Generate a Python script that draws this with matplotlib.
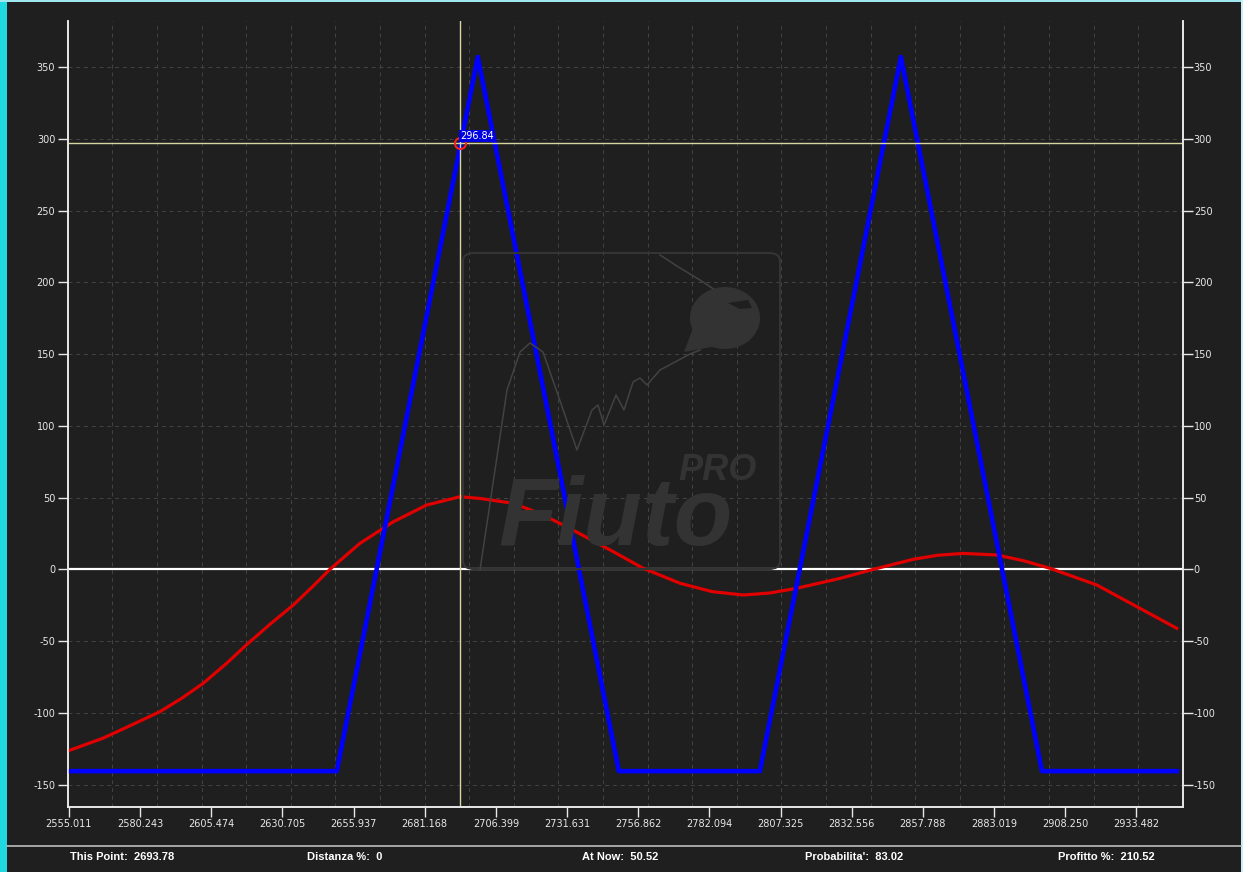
import matplotlib
matplotlib.use("Agg")
import matplotlib.pyplot as plt
from matplotlib.patches import FancyBboxPatch, Rectangle, PathPatch
from matplotlib.path import Path
import numpy as np

# ---------------- data ----------------
x_tick_labels = ["2555.011", "2580.243", "2605.474", "2630.705", "2655.937",
                 "2681.168", "2706.399", "2731.631", "2756.862", "2782.094",
                 "2807.325", "2832.556", "2857.788", "2883.019", "2908.250",
                 "2933.482"]
y_ticks = [-150, -100, -50, 0, 50, 100, 150, 200, 250, 300, 350]

# expiry payoff (blue)
expiry_x = [2555.011, 2650.0, 2700.0, 2750.0, 2800.0, 2850.0, 2900.0, 2947.8]
expiry_y = [-140.6, -140.6, 357.0, -140.6, -140.6, 357.0, -140.6, -140.6]

# payoff now (red)
now_x = [2555.011, 2567.07, 2575.47, 2587.28, 2594.98, 2602.65, 2610.93, 2618.03,
         2626.3, 2634.55, 2641.65, 2647.57, 2658.2, 2670.0, 2681.86, 2693.67,
         2700.76, 2712.57, 2722.5, 2732.67, 2748.03, 2758.67, 2771.68, 2783.0,
         2794.12, 2803.5, 2813.07, 2828.42, 2840.23, 2854.42, 2863.0, 2872.14,
         2883.98, 2893.5, 2902.88, 2919.44, 2933.63, 2947.8]
now_y = [-126.3, -117.7, -110.1, -99.2, -89.9, -79.4, -65.5, -52.5,
         -38.3, -24.9, -11.6, 0.0, 18.1, 33.1, 44.8, 50.6,
         49.4, 46.0, 38.5, 28.5, 12.3, 0.7, -9.7, -15.5,
         -17.9, -16.5, -13.2, -6.3, 0.0, 7.0, 9.8, 11.1,
         10.0, 6.0, 0.7, -10.9, -26.0, -41.1]

cursor_x = 2693.78
cursor_y = 296.84

status_labels = ["This Point:  2693.78", "Distanza %:  0", "At Now:  50.52",
                 "Probabilita':  83.02", "Profitto %:  210.52"]

# ---------------- figure ----------------
W, H = 1243, 872
BG = "#1f1f1f"
fig = plt.figure(figsize=(W / 100, H / 100), dpi=100)
fig.patch.set_facecolor(BG)

def fx(px):
    return px / W

def fy(py):
    return 1 - py / H

# frame decorations
fig.add_artist(Rectangle((0, 0), fx(7), 1, transform=fig.transFigure,
                         facecolor="#1fd8e0", edgecolor="none", zorder=0))
fig.add_artist(Rectangle((0, fy(2)), 1, 2 / H, transform=fig.transFigure,
                         facecolor="#9fe8f0", edgecolor="none", zorder=0))
fig.add_artist(Rectangle((fx(1241), 0), fx(2), 1, transform=fig.transFigure,
                         facecolor="#c8f0f4", edgecolor="none", zorder=0))
fig.add_artist(plt.Line2D([fx(7), fx(1241)], [fy(846), fy(846)],
                          transform=fig.transFigure, color="#bdbdbd", lw=1.2))

ax_left, ax_right, ax_top, ax_bottom = 67.7, 1182.7, 20.7, 806.7
ax = fig.add_axes([fx(ax_left), fy(ax_bottom), fx(ax_right - ax_left),
                   (ax_bottom - ax_top) / H])
ax.set_facecolor(BG)

xmin, xmax = 2554.6, 2949.9
ymin, ymax = -165.4, 382.3
ax.set_xlim(xmin, xmax)
ax.set_ylim(ymin, ymax)

# ---------------- watermark (logo) ----------------
wm_col = "#333333"
wm_line = "#424242"
logo = FancyBboxPatch((fx(463), fy(569)), fx(780 - 463), (569 - 253) / H,
                      boxstyle="round,pad=0,rounding_size=0.009",
                      transform=fig.transFigure, facecolor="none",
                      edgecolor="#343434", lw=1.5, zorder=0.5)
fig.add_artist(logo)
curve_px = [(480, 570), (495, 470), (507, 390), (520, 352), (530, 343), (543, 352),
            (558, 395), (577, 450), (592, 410), (598, 405), (604, 425),
            (616, 395), (624, 410), (633, 382), (640, 378), (647, 385),
            (660, 370), (690, 354), (700, 350)]
fig.add_artist(plt.Line2D([fx(p[0]) for p in curve_px], [fy(p[1]) for p in curve_px],
                          transform=fig.transFigure, color=wm_line, lw=1.1, zorder=0.6))
string_px = [(660, 255), (680, 268), (700, 280), (715, 290)]
fig.add_artist(plt.Line2D([fx(p[0]) for p in string_px], [fy(p[1]) for p in string_px],
                          transform=fig.transFigure, color=wm_line, lw=1.1, zorder=0.6))
# balloon drop
t = np.linspace(0, 2 * np.pi, 80)
bx = 725 + 35 * np.cos(t)
by = 318 + 31 * np.sin(t)
verts = [(fx(a), fy(b)) for a, b in zip(bx, by)]
fig.add_artist(PathPatch(Path(verts + [verts[0]]), transform=fig.transFigure,
                         facecolor=wm_col, edgecolor="none", zorder=0.6))
tail = [(fx(698), fy(315)), (fx(684), fy(352)), (fx(722), fy(345)), (fx(698), fy(315))]
fig.add_artist(PathPatch(Path(tail), transform=fig.transFigure,
                         facecolor=wm_col, edgecolor="none", zorder=0.6))
eye = [(fx(728), fy(303)), (fx(748), fy(300)), (fx(752), fy(308)), (fx(740), fy(309)),
       (fx(728), fy(303))]
fig.add_artist(PathPatch(Path(eye), transform=fig.transFigure,
                         facecolor="#1f1f1f", edgecolor="none", zorder=0.61))
fig.text(fx(498), fy(545), "Fiuto", fontsize=69, fontweight="bold", fontstyle="italic",
         family="Liberation Sans", color=wm_col, ha="left", va="baseline", zorder=0.6)
fig.text(fx(678), fy(480), "PRO", fontsize=26, fontweight="bold", fontstyle="italic",
         family="Liberation Sans", color=wm_col, ha="left", va="baseline", zorder=0.6)

# ---------------- grid ----------------
grid_col = "#444444"
for k in range(1, 25):
    gx = xmin + k * (xmax - xmin) / 25
    ax.axvline(gx, color=grid_col, lw=0.7, ls=(0, (4, 4)), zorder=1)
for yv in y_ticks:
    if yv != 0:
        ax.axhline(yv, color=grid_col, lw=0.7, ls=(0, (4, 4)), zorder=1)
ax.axhline(0, color="white", lw=1.6, zorder=2)

# ---------------- data lines ----------------
ax.plot(now_x, now_y, color="#e00000", lw=2.3, zorder=3, solid_joinstyle="round")
ax.plot(expiry_x, expiry_y, color="#0000ff", lw=3.3, zorder=4, solid_joinstyle="round")

# crosshair
ch_col = "#d6d6a0"
ax.axvline(cursor_x, color=ch_col, lw=1.0, zorder=5)
ax.axhline(cursor_y, color=ch_col, lw=1.0, zorder=5)
ax.plot([cursor_x], [cursor_y], marker="o", ms=8, mfc="none", mec="#ff2020",
        mew=1.4, zorder=6)
ax.annotate(f"{cursor_y:.2f}", (cursor_x, cursor_y), xytext=(0, 2),
            textcoords="offset points", ha="left", va="bottom", fontsize=7,
            color="white", zorder=7,
            bbox=dict(boxstyle="square,pad=0.1", facecolor="#0000e0", edgecolor="none"))

# ---------------- axes styling ----------------
x_tick_vals = [float(s) for s in x_tick_labels]
ax.set_xticks(x_tick_vals)
ax.set_xticklabels(x_tick_labels)
ax.set_yticks(y_ticks)
ax.set_yticklabels([str(v) for v in y_ticks])
ax.tick_params(axis="both", colors="#e8e8e8", labelsize=7, length=7, width=1,
               direction="out", pad=2)
ax.spines["top"].set_visible(False)
for s in ["left", "right", "bottom"]:
    ax.spines[s].set_color("#e8e8e8")
    ax.spines[s].set_linewidth(1.2)

ax2 = ax.twinx()
ax2.set_ylim(ymin, ymax)
ax2.set_yticks(y_ticks)
ax2.set_yticklabels([str(v) for v in y_ticks])
ax2.tick_params(axis="y", colors="#e8e8e8", labelsize=7, length=7, width=1, pad=1)
ax2.spines["top"].set_visible(False)
for s in ["left", "right", "bottom"]:
    ax2.spines[s].set_color("#e8e8e8")
    ax2.spines[s].set_linewidth(1.2)

# ---------------- status bar ----------------
status_x = [70, 307, 582, 805, 1058]
for sx, lab in zip(status_x, status_labels):
    fig.text(fx(sx), fy(857), lab, fontsize=8, fontweight="bold",
             family="Liberation Sans", color="white", ha="left", va="center")

fig.savefig("out.png", dpi=100, facecolor=fig.get_facecolor())
